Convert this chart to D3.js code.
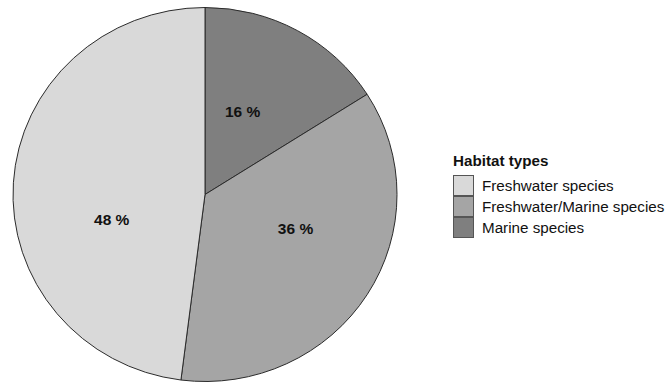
<!DOCTYPE html>
<html>
<head>
<meta charset="utf-8">
<script src="https://cdn.jsdelivr.net/npm/d3@7"></script>
<style>
  html, body { margin: 0; padding: 0; background: #fff; }
  svg { display: block; font-family: "Liberation Sans", Arial, sans-serif; }
</style>
</head>
<body>
<svg id="chart" width="666" height="383"></svg>
<script>
// Habitat share of species, in percent, drawn clockwise from 12 o'clock
const categories = ["Marine species", "Freshwater/Marine species", "Freshwater species"];
const shares = [16, 36, 48];
const fills = ["#7f7f7f", "#a5a5a5", "#d9d9d9"];
const legendOrder = ["Freshwater species", "Freshwater/Marine species", "Marine species"];
const legendTitle = "Habitat types";

const svg = d3.select("#chart");
const cx = 205, cy = 194.5, rx = 192, ry = 187;

const data = categories.map((c, i) => ({ category: c, value: shares[i] }));
const color = d3.scaleOrdinal().domain(categories).range(fills);

const pie = d3.pie().value(d => d.value).sort(null);
const arcs = pie(data);
const arc = d3.arc().innerRadius(0).outerRadius(rx);

const g = svg.append("g")
  .attr("transform", `translate(${cx},${cy}) scale(1,${ry / rx})`);

g.selectAll("path.slice")
  .data(arcs)
  .join("path")
  .attr("class", "slice")
  .attr("d", arc)
  .attr("fill", d => color(d.data.category))
  .attr("stroke", "#2b2b2b")
  .attr("stroke-width", 1)
  .attr("vector-effect", "non-scaling-stroke");

// percentage labels, set a little ahead of each slice's middle
const labelR = rx * 0.5;
const labelAngle = d => d.startAngle + 0.4 * (d.endAngle - d.startAngle);
svg.append("g")
  .attr("transform", `translate(${cx},${cy + 3})`)
  .selectAll("text")
  .data(arcs)
  .join("text")
  .attr("x", d => labelR * Math.sin(labelAngle(d)))
  .attr("y", d => -labelR * Math.cos(labelAngle(d)) * (ry / rx))
  .attr("text-anchor", "middle")
  .attr("dominant-baseline", "central")
  .attr("font-size", 15.5)
  .attr("font-weight", "bold")
  .attr("fill", "#111")
  .text(d => `${d.data.value} %`);

// legend
const leg = svg.append("g").attr("transform", "translate(453,0)");
leg.append("text")
  .attr("x", 0).attr("y", 166)
  .attr("font-size", 15.2)
  .attr("font-weight", "bold")
  .attr("fill", "#111")
  .text(legendTitle);

const keyY = d3.scaleBand().domain(legendOrder).range([175, 238]);
const items = leg.selectAll("g.item")
  .data(legendOrder)
  .join("g")
  .attr("class", "item")
  .attr("transform", d => `translate(0,${keyY(d)})`);

items.append("rect")
  .attr("x", 0.5).attr("y", 0.5)
  .attr("width", keyY.bandwidth() - 1)
  .attr("height", keyY.bandwidth() - 1)
  .attr("fill", d => color(d))
  .attr("stroke", "#555")
  .attr("stroke-width", 1);

items.append("text")
  .attr("x", 29)
  .attr("y", keyY.bandwidth() / 2)
  .attr("dominant-baseline", "central")
  .attr("font-size", 15.2)
  .attr("fill", "#111")
  .text(d => d);
</script>
</body>
</html>
